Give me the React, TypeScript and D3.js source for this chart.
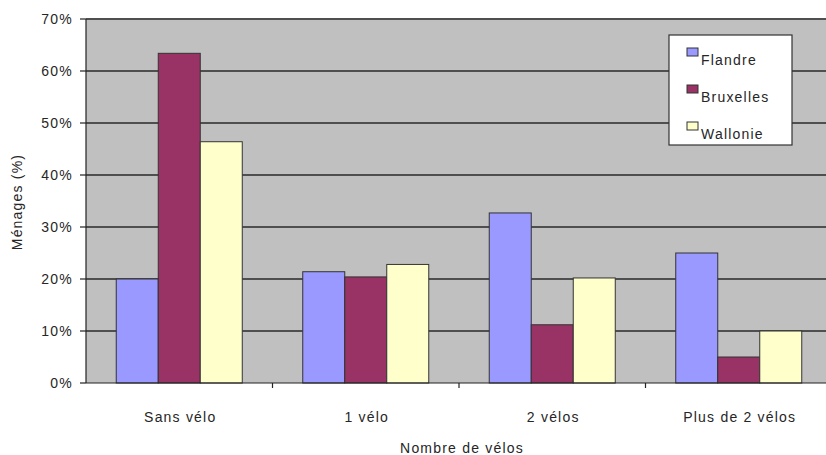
import React from "react";
import * as d3 from "d3";

const categories = ["Sans vélo", "1 vélo", "2 vélos", "Plus de 2 vélos"];
const seriesNames = ["Flandre", "Bruxelles", "Wallonie"];
const flandre = [20, 21.4, 32.7, 25];
const bruxelles = [63.4, 20.4, 11.2, 5];
const wallonie = [46.4, 22.8, 20.2, 10];
const seriesValues = [flandre, bruxelles, wallonie];
const seriesColors = ["#9999FF", "#993366", "#FFFFCC"];
const yTicks = [0, 10, 20, 30, 40, 50, 60, 70];

const W = 826;
const H = 455;
const left = 86;
const right = 832;
const top = 19;
const bottom = 383;

const FONT = "'Liberation Sans', Arial, sans-serif";

export default function App() {
  const x = d3.scaleBand<string>().domain(categories).range([left, right]).paddingInner(0).paddingOuter(0);
  const x1 = d3.scaleBand<string>().domain(seriesNames).range([0, x.bandwidth()]).paddingInner(0).paddingOuter(0.72);
  const y = d3.scaleLinear().domain([0, 70]).range([bottom, top]);

  const textStyle = { fontFamily: FONT, fontSize: 14, letterSpacing: 1.2, fill: "#262626" } as const;

  return (
    <svg width={W} height={H} style={{ position: "absolute", left: 0, top: 0, background: "#fff" }}>
      <rect x={left} y={y(70) - 1} width={right - left} height={bottom - y(70) + 1} fill="#C0C0C0" />
      {yTicks.filter((t) => t > 0).map((t) => (
        <line key={"g" + t} x1={left} x2={right} y1={y(t)} y2={y(t)} stroke="#2a2a2a" strokeWidth={1.4} />
      ))}
      {categories.map((c, ci) => (
        <g key={c} transform={`translate(${x(c)},0)`}>
          {seriesNames.map((s, si) => {
            const v = seriesValues[si][ci];
            return (
              <rect
                key={s}
                x={x1(s)}
                y={y(v)}
                width={x1.bandwidth()}
                height={y(0) - y(v)}
                fill={seriesColors[si]}
                stroke="#333"
                strokeWidth={1}
              />
            );
          })}
        </g>
      ))}
      {/* axes */}
      <line x1={left} x2={left} y1={y(70)} y2={bottom} stroke="#222" strokeWidth={1.2} />
      <line x1={left} x2={right} y1={bottom} y2={bottom} stroke="#222" strokeWidth={1.2} />
      {yTicks.map((t) => (
        <g key={"t" + t}>
          <line x1={left - 6} x2={left} y1={y(t)} y2={y(t)} stroke="#222" strokeWidth={1.2} />
          <text x={73} y={y(t) + 5} textAnchor="end" {...textStyle}>
            {t}%
          </text>
        </g>
      ))}
      {categories.map((c, i) => (
        <g key={"c" + c}>
          {i > 0 && <line x1={x(c)} x2={x(c)} y1={bottom} y2={bottom + 5} stroke="#222" strokeWidth={1.2} />}
          <text x={(x(c) as number) + x.bandwidth() / 2 + 1} y={422} textAnchor="middle" {...textStyle}>
            {c}
          </text>
        </g>
      ))}
      <text x={462} y={453} textAnchor="middle" {...textStyle}>
        Nombre de vélos
      </text>
      <text transform={`translate(22,${202}) rotate(-90)`} textAnchor="middle" {...textStyle}>
        Ménages (%)
      </text>
      {/* legend */}
      <rect x={669} y={35} width={123} height={110} fill="#fff" stroke="#333" strokeWidth={1.2} />
      {seriesNames.map((s, i) => (
        <g key={"l" + s} transform={`translate(0,${i * 37})`}>
          <rect x={687} y={48} width={11} height={8} fill={seriesColors[i]} stroke="#333" strokeWidth={1} />
          <text x={701} y={65} {...textStyle}>
            {s}
          </text>
        </g>
      ))}
    </svg>
  );
}
